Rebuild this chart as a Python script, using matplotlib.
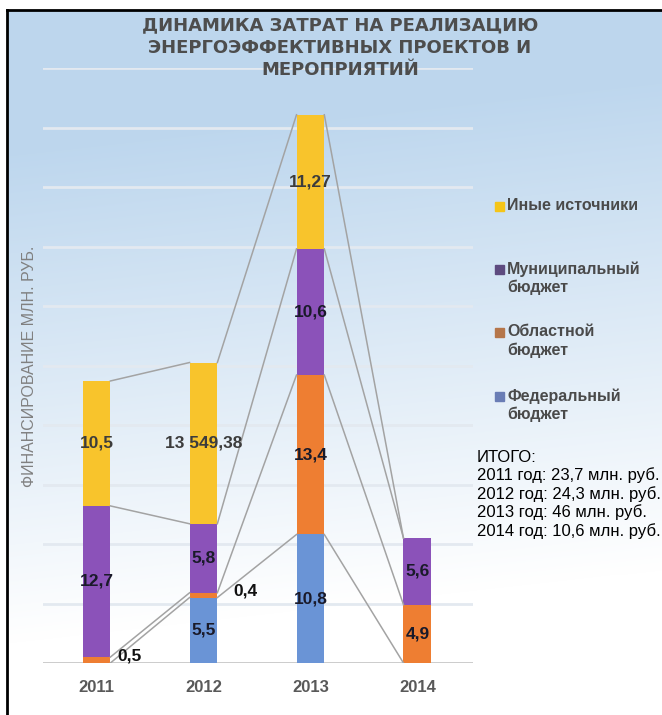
import numpy as np
import matplotlib
matplotlib.use("Agg")
import matplotlib.pyplot as plt
from matplotlib.patches import Rectangle

# ---------------- data ----------------
years = ["2011", "2012", "2013", "2014"]
series_names = ["Федеральный\nбюджет", "Областной\nбюджет", "Муниципальный\nбюджет", "Иные источники"]
federal = [0.0, 5.5, 10.8, 0.0]
oblast = [0.5, 0.4, 13.4, 4.9]
municipal = [12.7, 5.8, 10.6, 5.6]
other = [10.5, 13.55, 11.27, 0.0]
federal_labels = ["", "5,5", "10,8", ""]
oblast_labels = ["0,5", "0,4", "13,4", "4,9"]
municipal_labels = ["12,7", "5,8", "10,6", "5,6"]
other_labels = ["10,5", "13 549,38", "11,27", ""]
title_lines = ["ДИНАМИКА ЗАТРАТ НА РЕАЛИЗАЦИЮ", "ЭНЕРГОЭФФЕКТИВНЫХ ПРОЕКТОВ И", "МЕРОПРИЯТИЙ"]
ylabel = "ФИНАНСИРОВАНИЕ МЛН. РУБ."
totals_lines = ["ИТОГО:", "2011 год: 23,7 млн. руб.", "2012 год: 24,3 млн. руб.",
                "2013 год: 46 млн. руб.", "2014 год: 10,6 млн. руб."]

# ---------------- style ----------------
W, H = 662, 715
bar_colors = ["#6A94D6", "#EE7E32", "#8B52B9", "#F8C42C"]
legend_colors = ["#6A7DB5", "#B5764A", "#5E4B7F", "#F5C518"]

fig = plt.figure(figsize=(W / 100, H / 100), dpi=100)

# background gradient + frame
bg = fig.add_axes([0, 0, 1, 1], zorder=-10)
bg.set_xlim(0, W)
bg.set_ylim(H, 0)
bg.axis("off")
yy, xx = np.mgrid[0:H, 0:W]
yn = yy / H
xn = xx / W
f = np.clip(1.3 - 1.45 * yn - 0.15 * xn, 0, 1)
blue = np.array([0.745, 0.843, 0.933])
img = f[..., None] * blue + (1 - f[..., None]) * np.array([1.0, 1.0, 1.0])
bg.imshow(img, extent=(7, W, H, 10), aspect="auto", interpolation="bilinear")
bg.plot([7, 7], [10, H], color="black", lw=2)
bg.plot([7, W], [10, 10], color="black", lw=2)

# main axes
left, right = 43 / W, 473 / W
bottom, top = (H - 663) / H, (H - 68) / H
ax = fig.add_axes([left, bottom, right - left, top - bottom])
ax.patch.set_alpha(0)
for s in ax.spines.values():
    s.set_visible(False)
ax.set_xlim(-0.5, 3.52)
ax.set_ylim(0, 50)
ax.set_yticks([])
x = np.arange(len(years))
ax.set_xticks(x)
ax.set_xticklabels(years, fontsize=12, fontweight="bold", color="#595959",
                   family="Liberation Sans")
ax.tick_params(axis="x", length=0, pad=12)

for g in range(5, 55, 5):
    ax.axhline(g, color="#E3E9F0", lw=2, zorder=0)
ax.axhline(0, color="#C8C8C8", lw=2, zorder=0)

bw = 0.26
data = [federal, oblast, municipal, other]
labels = [federal_labels, oblast_labels, municipal_labels, other_labels]
bottoms = np.zeros(len(years))
tops = []
for vals, col in zip(data, bar_colors):
    v = np.array(vals)
    ax.bar(x, v, bw, bottom=bottoms, color=col, zorder=2)
    tops.append(bottoms + v)
    bottoms = bottoms + v

# series lines
for t in tops:
    for i in range(len(years) - 1):
        ax.plot([x[i] + bw / 2, x[i + 1] - bw / 2], [t[i], t[i + 1]],
                color="#A3A3A3", lw=1.1, zorder=3)

# data labels
bottoms = np.zeros(len(years))
for si, (vals, labs) in enumerate(zip(data, labels)):
    v = np.array(vals)
    for i in range(len(years)):
        if labs[i]:
            yc = bottoms[i] + v[i] / 2
            if si == 1 and i in (0, 1):
                dx = {0: 7, 1: 16}[i]
                ax.annotate(labs[i], (x[i] + bw / 2, yc), xytext=(dx * 0.72, 3),
                            textcoords="offset points", ha="left", va="center",
                            fontsize=12.5, fontweight="bold", color="#111111",
                            family="Liberation Sans", zorder=5)
            else:
                col = "#3C3C3C" if si == 3 else "#1A1A2A"
                ax.text(x[i], yc, labs[i], ha="center", va="center", fontsize=12.5,
                        fontweight="bold", color=col, family="Liberation Sans", zorder=5)
    bottoms = bottoms + v

# title
for k, (line, ypx) in enumerate(zip(title_lines, [25, 48, 70])):
    fig.text(340 / W, 1 - ypx / H, line, ha="center", va="center", fontsize=13,
             fontweight="bold", color="#4D4D4D", family="DejaVu Sans")

# y label
fig.text(30 / W, 1 - 366 / H, ylabel, rotation=90, ha="center", va="center",
         fontsize=11.5, color="#808080", family="Liberation Sans")

# legend (top to bottom: other, municipal, oblast, federal)
leg_y = [206, 269, 332, 396]
for k, si in enumerate([3, 2, 1, 0]):
    ypx = leg_y[k]
    bg.add_patch(Rectangle((495, ypx - 4.5), 9, 9, color=legend_colors[si], zorder=5))
    parts = series_names[si].split("\n")
    for j, part in enumerate(parts):
        fig.text(507 / W, 1 - (ypx + 18 * j) / H, part, ha="left", va="center",
                 fontsize=11.5, fontweight="bold", color="#4A4A4A",
                 family="Liberation Sans")

# totals
for k, line in enumerate(totals_lines):
    fig.text(477 / W, 1 - (457 + 18.4 * k) / H, line, ha="left", va="center",
             fontsize=12, color="black", family="Liberation Sans")

fig.savefig("out.png", dpi=100)
